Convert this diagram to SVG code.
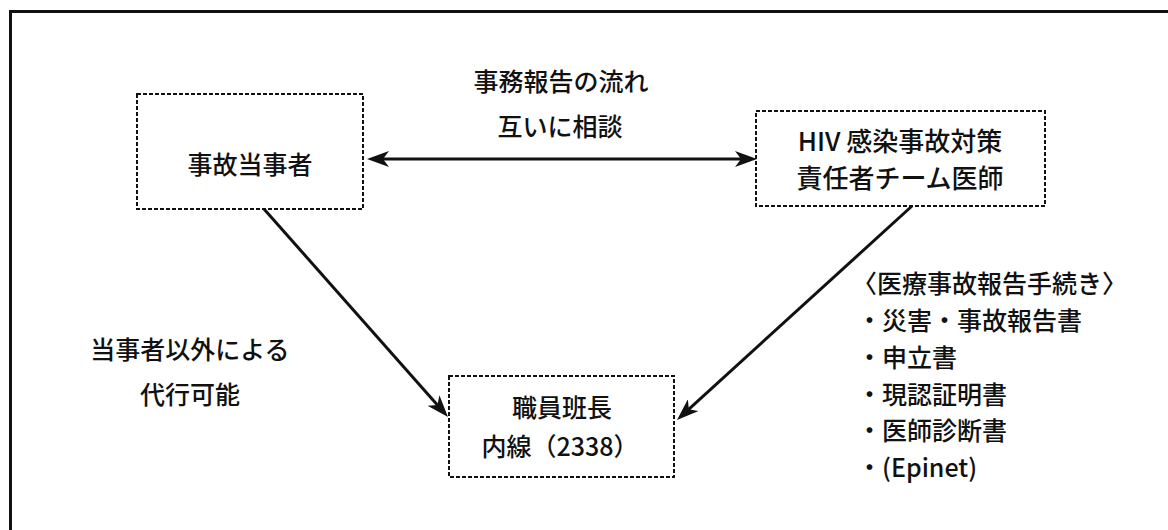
<svg xmlns="http://www.w3.org/2000/svg" width="1168" height="530" viewBox="0 0 1168 530">
  <style>
    text { font-family: "Noto Sans CJK JP", "Noto Sans", sans-serif; font-size: 25px; font-weight: 500; fill: #111; }
    .c { text-anchor: middle; }
    .big { font-size: 26px; }
    .box { fill: none; stroke: #111; stroke-width: 2; stroke-dasharray: 4 2; }
    .conn { fill: none; stroke: #111; stroke-width: 3; }
    .frame { fill: none; stroke: #111; stroke-width: 3; }
  </style>
  <defs>
    <marker id="ah" viewBox="0 0 22 16" refX="14" refY="8" markerWidth="22" markerHeight="16" markerUnits="userSpaceOnUse" orient="auto-start-reverse">
      <path d="M0,0 L22,8 L0,16 L6,8 Z" fill="#111"/>
    </marker>
  </defs>
  <rect width="1168" height="530" fill="#fff"/>
  <path class="frame" d="M10.5,530 L10.5,11.5 L1168,11.5"/>

  <g id="title">
    <text class="c" x="561" y="91">事務報告の流れ</text>
    <text class="c" x="560" y="136">互いに相談</text>
  </g>

  <g id="node-jiko">
    <rect class="box" x="137" y="94" width="226" height="115"/>
    <text class="c" x="250" y="174">事故当事者</text>
  </g>

  <g id="node-hiv">
    <rect class="box" x="756" y="111" width="289" height="95"/>
    <text class="c big" x="900" y="151">HIV 感染事故対策</text>
    <text class="c big" x="900" y="188">責任者チーム医師</text>
  </g>

  <g id="node-hancho">
    <rect class="box" x="449" y="376" width="225" height="101"/>
    <text class="c" x="562" y="417">職員班長</text>
    <text class="c" x="560" y="456">内線（2338）</text>
  </g>

  <g id="note-left">
    <text class="c" x="190" y="359">当事者以外による</text>
    <text class="c" x="190" y="404">代行可能</text>
  </g>

  <g id="note-right">
    <text x="852" y="293">〈医療事故報告手続き〉</text>
    <text x="857" y="330">・災害・事故報告書</text>
    <text x="857" y="367">・申立書</text>
    <text x="857" y="404">・現認証明書</text>
    <text x="857" y="440">・医師診断書</text>
    <text x="857" y="477">・(Epinet)</text>
  </g>

  <g id="connectors">
    <line class="conn" x1="375" y1="159" x2="749" y2="159" marker-start="url(#ah)" marker-end="url(#ah)"/>
    <line class="conn" x1="264" y1="209" x2="442.7" y2="411" marker-end="url(#ah)"/>
    <line class="conn" x1="912" y1="206" x2="682.9" y2="414.6" marker-end="url(#ah)"/>
  </g>
</svg>
